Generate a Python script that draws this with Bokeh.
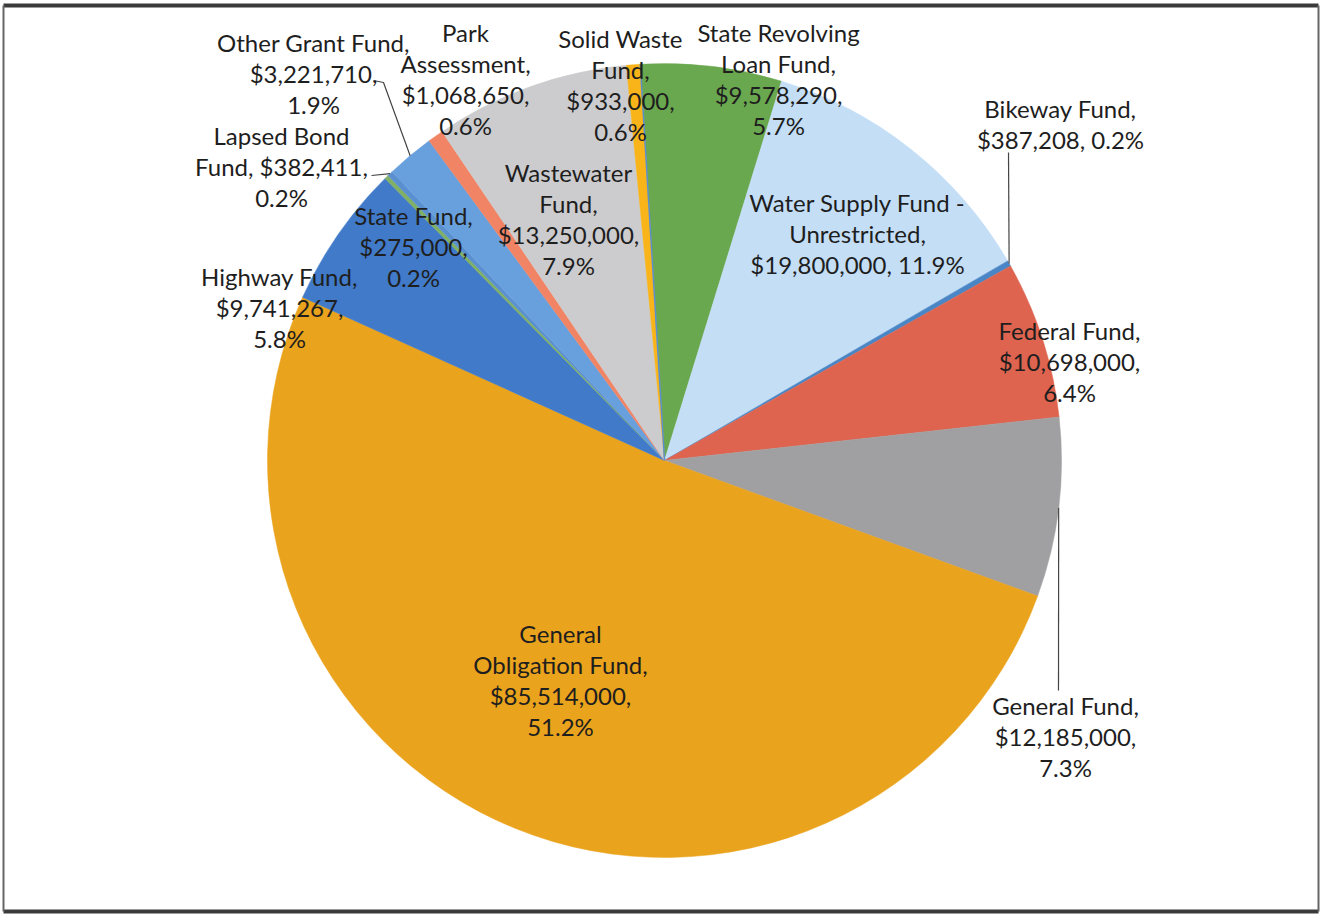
import math
from bokeh.plotting import figure
from bokeh.models import Range1d, ColumnDataSource
from bokeh.embed import file_html
from bokeh.resources import INLINE
from bokeh.core.properties import value

# ---------------- data ----------------
funds = ["State Revolving Loan Fund", "Water Supply Fund - Unrestricted", "Bikeway Fund",
         "Federal Fund", "General Fund", "General Obligation Fund", "Highway Fund",
         "State Fund", "Lapsed Bond Fund", "Other Grant Fund", "Park Assessment",
         "Wastewater Fund", "Solid Waste Fund"]
amounts = [9578290, 19800000, 387208, 10698000, 12185000, 85514000, 9741267,
           275000, 382411, 3221710, 1068650, 13250000, 933000]
colors = ["#6AA84F", "#C4DEF6", "#4A86C5", "#DE6450", "#A0A0A2", "#EAA31C", "#407AC8",
          "#80B064", "#5A8FD0", "#68A0DE", "#F08464", "#CCCCCE", "#F8B418"]

# ---------------- layout ----------------
W, H = 1320, 914
CX, CY, R = 664, 460, 397          # page pixels
START = -3.5                        # degrees clockwise from 12 o'clock
FONT = "Lato"
FS = 24
LH = 31
name_breaks = [[2, 2], [4, 1], [2], [2], [2], [1, 2], [2], [2], [2, 1], [3], [1, 1], [1, 1], [2, 1]]
amt_join = ["\n", "\n", "\n", "\n", "\n", "\n", "\n", "\n", " ", "\n", "\n", "\n", "\n"]
pct_join = ["\n", " ", " ", "\n", "\n", "\n", "\n", "\n", "\n", "\n", "\n", "\n", "\n"]
label_pos = [(778, 32), (857, 202), (1060, 108), (1069, 330), (1065, 705), (560, 633),
             (279, 276), (413, 215), (281, 135), (313, 42), (465, 32), (568, 172), (620, 38)]
# leader lines: label-side points (page px); pie end computed from slice middle
leaders = {2: [(1008, 152)], 4: [(1058, 690)], 9: [(373, 80), (383, 82)], 8: [(371, 175)]}

p = figure(width=W, height=H, output_backend="svg", toolbar_location=None,
           x_range=Range1d(0, W), y_range=Range1d(-H, 0),
           min_border=0, background_fill_color="white", border_fill_color="white")
p.axis.visible = False
p.grid.visible = False
p.outline_line_color = None

total = float(sum(amounts))
cum = 0.0
starts, ends, mids = [], [], []
for a in amounts:
    t0 = START + cum / total * 360.0
    cum += a
    t1 = START + cum / total * 360.0
    starts.append(math.radians(90 - t0))
    ends.append(math.radians(90 - t1))
    mids.append((t0 + t1) / 2)

src = ColumnDataSource(dict(start=starts, end=ends, color=colors))
p.wedge(x=CX, y=-CY, radius=R, start_angle="start", end_angle="end",
        direction="clock", fill_color="color", line_color="color", line_width=0.5, source=src)

# thin separator seen between the last and first slice
t_sep = math.radians(START)
p.line([CX, CX + R * math.sin(t_sep)], [-CY, -(CY - R * math.cos(t_sep))],
       line_color="#5B8FCF", line_width=1.5)

# leader lines
for idx, pts in leaders.items():
    th = math.radians(mids[idx])
    ex, ey = CX + R * math.sin(th), CY - R * math.cos(th)
    xs = [q[0] for q in pts] + [ex]
    ys = [-q[1] for q in pts] + [-ey]
    p.line(xs, ys, line_color="#444444", line_width=1.2)

# labels
tx, ty, tt = [], [], []
for i, name in enumerate(funds):
    words = name.split(" ")
    lines, k = [], 0
    for n in name_breaks[i]:
        lines.append(" ".join(words[k:k + n]))
        k += n
    lines[-1] += ","
    amt = "${:,},".format(amounts[i])
    if amt_join[i] == " ":
        lines[-1] += " " + amt
    else:
        lines.append(amt)
    pct = "{:.1f}%".format(amounts[i] / total * 100)
    if pct_join[i] == " ":
        lines[-1] += " " + pct
    else:
        lines.append(pct)
    lx, ly = label_pos[i]
    for j, s in enumerate(lines):
        tx.append(lx)
        ty.append(-(ly + j * LH))
        tt.append(s)

p.text(x=tx, y=ty, text=tt, text_align="center", text_baseline="middle",
       text_font=value(FONT), text_font_size=f"{FS}px", text_color="#1e1e1e")

# frame of the original chart area
p.line([3, 1318], [-5, -5], line_color="#3a3a3a", line_width=4)
p.line([3, 1318], [-911, -911], line_color="#3a3a3a", line_width=4)
p.line([3, 3], [-5, -911], line_color="#666666", line_width=2)
p.line([1318, 1318], [-5, -911], line_color="#666666", line_width=2)

open("out.html", "w").write(file_html(p, INLINE))
